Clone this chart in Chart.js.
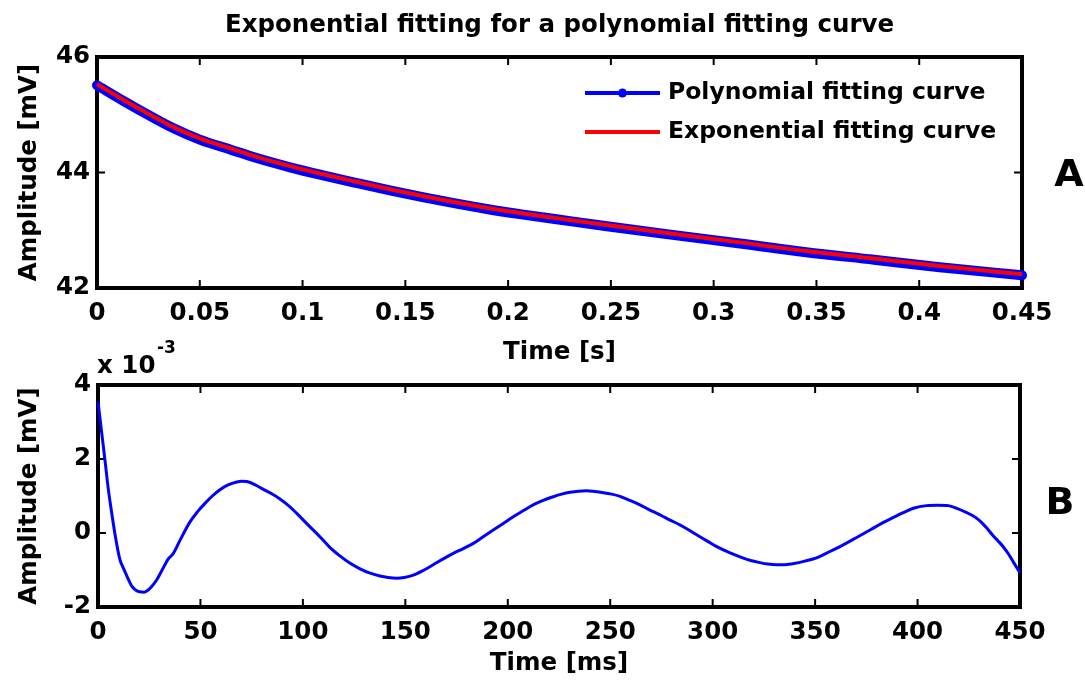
<!DOCTYPE html>
<html>
<head>
<meta charset="utf-8">
<script src="https://cdn.jsdelivr.net/npm/chart.js@4/dist/chart.umd.min.js"></script>
<style>
  html, body { margin: 0; padding: 0; background: #fff; }
  body { width: 1085px; height: 681px; position: relative; overflow: hidden; }
  canvas { position: absolute; left: 0; }
  #chartA { top: 0; }
  #chartB { top: 335px; }
</style>
</head>
<body>
<canvas id="chartA" width="1085" height="372"></canvas>
<canvas id="chartB" width="1085" height="346"></canvas>
<script>
// ---- Panel A: amplitude decay, time in s, amplitude in mV ----
const timeA = [0, 0.0128, 0.0258, 0.037, 0.05, 0.0647, 0.0777, 0.0939, 0.110, 0.126, 0.1425,
  0.159, 0.175, 0.191, 0.2074, 0.2236, 0.248, 0.280, 0.3128, 0.345, 0.378, 0.410, 0.45];
const polyFit = [45.51, 45.24, 44.98, 44.77, 44.57, 44.40, 44.25, 44.09, 43.95, 43.82, 43.69,
  43.57, 43.46, 43.36, 43.27, 43.19, 43.07, 42.92, 42.77, 42.62, 42.49, 42.36, 42.22];
const expFit = [45.53, 45.26, 45.0, 44.79, 44.59, 44.42, 44.27, 44.11, 43.97, 43.84, 43.71,
  43.59, 43.48, 43.38, 43.29, 43.21, 43.09, 42.94, 42.79, 42.64, 42.51, 42.38, 42.24];
const ticksAx = [0, 0.05, 0.1, 0.15, 0.2, 0.25, 0.3, 0.35, 0.4, 0.45];
const ticksAy = [42, 44, 46];

// ---- Panel B: difference of the two fits, time in ms, amplitude in 1e-3 mV ----
const timeB = [0, 1.5, 3.4, 5, 6.7, 8.5, 10.7, 12, 13.2, 14.8, 16.4, 18.5, 20.5, 22.5, 23.8, 26,
  28.6, 31.5, 34.3, 36.8, 40, 44.9, 48.5, 52.2, 55.8, 59.5, 63.5, 67.7, 70, 72.6, 76.5, 80.7,
  84.8, 88.8, 93, 97, 102.5, 108.3, 113, 118.1, 122.5, 127.9, 132.5, 137.6, 141.5, 145.8, 149.5,
  153.9, 158.5, 163.6, 168.5, 173.4, 178.3, 183.2, 188, 192.9, 197.8, 202.7, 207.5, 212.4, 217.3,
  222.2, 226.3, 230.4, 234.5, 238.5, 242.5, 246.6, 250.7, 254.8, 259.6, 264.5, 269.4, 274.3,
  279.2, 284, 289, 293.8, 298, 302, 308.5, 315, 319, 323, 327, 331, 335, 339, 345, 350.7, 357.2,
  363.7, 370.3, 376.8, 382.5, 388.2, 393, 398, 404.4, 409.7, 415, 419.5, 424, 427.2, 430.4,
  433.7, 437, 439.4, 441.8, 444.3, 446.7, 449.7, 450];
const residual = [3.55, 2.85, 1.97, 1.2, 0.54, -0.1, -0.72, -0.9, -1.05, -1.25, -1.43, -1.55,
  -1.59, -1.6, -1.57, -1.46, -1.27, -0.98, -0.7, -0.55, -0.2, 0.3, 0.57, 0.8, 1.0, 1.17, 1.3,
  1.38, 1.4, 1.39, 1.31, 1.18, 1.06, 0.92, 0.74, 0.53, 0.22, -0.1, -0.38, -0.62, -0.8, -0.97,
  -1.08, -1.16, -1.2, -1.22, -1.2, -1.14, -1.02, -0.86, -0.7, -0.55, -0.42, -0.28, -0.1, 0.08,
  0.26, 0.44, 0.6, 0.76, 0.88, 0.98, 1.05, 1.1, 1.13, 1.14, 1.12, 1.09, 1.05, 0.99, 0.88, 0.76,
  0.62, 0.49, 0.35, 0.22, 0.06, -0.1, -0.24, -0.37, -0.54, -0.68, -0.75, -0.8, -0.84, -0.86,
  -0.86, -0.83, -0.76, -0.67, -0.5, -0.32, -0.12, 0.08, 0.26, 0.42, 0.55, 0.67, 0.74, 0.75,
  0.74, 0.66, 0.55, 0.46, 0.33, 0.14, -0.08, -0.22, -0.37, -0.56, -0.78, -1.05, -1.08];
const ticksBx = [0, 50, 100, 150, 200, 250, 300, 350, 400, 450];
const ticksBy = [-2, 0, 2, 4];

const FONT = '"DejaVu Sans", "Liberation Sans", sans-serif';
Chart.defaults.font.family = FONT;
Chart.defaults.font.weight = 'bold';
Chart.defaults.font.size = 24.5;
Chart.defaults.font.lineHeight = 1.2;
Chart.defaults.color = '#000';
Chart.defaults.animation = false;

const pairs = (xs, ys) => xs.map((x, i) => ({ x, y: ys[i] }));

// Boxed axes with inward tick marks on all four sides
const frame = {
  id: 'frame',
  beforeDatasetsDraw(chart, args, opts) {
    const { ctx, chartArea: a, scales: { x, y } } = chart;
    ctx.save();
    ctx.strokeStyle = '#000';
    ctx.lineWidth = 2;
    ctx.beginPath();
    opts.xTicks.forEach(v => {
      const px = x.getPixelForValue(v);
      ctx.moveTo(px, a.bottom); ctx.lineTo(px, a.bottom - opts.len);
      ctx.moveTo(px, a.top); ctx.lineTo(px, a.top + opts.len);
    });
    opts.yTicks.forEach(v => {
      const py = y.getPixelForValue(v);
      ctx.moveTo(a.left, py); ctx.lineTo(a.left + opts.len, py);
      ctx.moveTo(a.right, py); ctx.lineTo(a.right - opts.len, py);
    });
    ctx.stroke();
    ctx.lineWidth = 4;
    ctx.strokeRect(a.left, a.top, a.right - a.left, a.bottom - a.top);
    ctx.restore();
  }
};

// Free text: panel letters and the axis multiplier
const notes = {
  id: 'notes',
  afterDraw(chart, args, opts) {
    const { ctx } = chart;
    ctx.save();
    ctx.fillStyle = '#000';
    (opts.items || []).forEach(it => {
      ctx.font = `bold ${it.size}px ${FONT}`;
      ctx.textAlign = it.align || 'left';
      ctx.textBaseline = it.baseline || 'alphabetic';
      ctx.fillText(it.text, it.x, it.y);
    });
    ctx.restore();
  }
};

// Legend drawn inside the plot box: line sample, optional dot, label
const lineKey = {
  id: 'lineKey',
  afterDatasetsDraw(chart, args, opts) {
    const { ctx, chartArea: a } = chart;
    const x0 = a.left + opts.dx;
    ctx.save();
    ctx.font = `bold ${opts.size}px ${FONT}`;
    ctx.textBaseline = 'middle';
    ctx.textAlign = 'left';
    chart.data.datasets.forEach((ds, i) => {
      const y = a.top + opts.dy + i * opts.gap;
      ctx.strokeStyle = ds.keyColor;
      ctx.lineWidth = 4;
      ctx.beginPath();
      ctx.moveTo(x0, y);
      ctx.lineTo(x0 + opts.len, y);
      ctx.stroke();
      if (ds.keyDot) {
        ctx.fillStyle = ds.keyColor;
        ctx.beginPath();
        ctx.arc(x0 + opts.len / 2, y, 4.5, 0, Math.PI * 2);
        ctx.fill();
      }
      ctx.fillStyle = '#000';
      ctx.fillText(ds.label, x0 + opts.len + 8, y);
    });
    ctx.restore();
  }
};

function fixedTicks(list) {
  return scale => { scale.ticks = list.map(v => ({ value: v })); };
}

new Chart(document.getElementById('chartA'), {
  type: 'line',
  data: {
    datasets: [
      {
        label: 'Polynomial fitting curve',
        data: pairs(timeA, polyFit),
        borderColor: '#0000ff',
        keyColor: '#0000ff',
        keyDot: true,
        borderWidth: 10,
        borderCapStyle: 'round',
        borderJoinStyle: 'round',
        pointRadius: 0,
        cubicInterpolationMode: 'monotone',
        clip: false,
        order: 2
      },
      {
        label: 'Exponential fitting curve',
        data: pairs(timeA, expFit),
        borderColor: '#ff0000',
        keyColor: '#ff0000',
        borderWidth: 4,
        pointRadius: 0,
        cubicInterpolationMode: 'monotone',
        clip: false,
        order: 1
      }
    ]
  },
  options: {
    responsive: false,
    layout: { padding: { left: 0, right: 63, top: 0, bottom: 0 } },
    scales: {
      x: {
        type: 'linear', min: 0, max: 0.45,
        afterBuildTicks: fixedTicks(ticksAx),
        afterFit: s => { s.height = 84; },
        grid: { display: false, drawTicks: false },
        border: { display: false },
        ticks: { padding: 11, maxRotation: 0, autoSkip: false, callback: v => String(v) },
        title: { display: true, text: 'Time [s]', padding: { top: 0, bottom: 5 } }
      },
      y: {
        type: 'linear', min: 42, max: 46,
        afterBuildTicks: fixedTicks(ticksAy),
        afterFit: s => { s.width = 97; },
        grid: { display: false, drawTicks: false },
        border: { display: false },
        ticks: { padding: 7, callback: v => String(v) },
        title: { display: true, text: 'Amplitude [mV]', padding: { top: 15, bottom: 0 } }
      }
    },
    plugins: {
      legend: { display: false },
      tooltip: { enabled: false },
      title: {
        display: true,
        fullSize: false,
        text: 'Exponential fitting for a polynomial fitting curve',
        font: { size: 24.5, weight: 'bold', lineHeight: 1.2 },
        color: '#000',
        padding: { top: 11, bottom: 16.6 }
      },
      frame: { xTicks: ticksAx, yTicks: ticksAy, len: 8 },
      lineKey: { dx: 488, dy: 36, gap: 39, len: 75, size: 23.5 },
      notes: { items: [{ text: 'A', x: 1069, y: 176, size: 38, align: 'center', baseline: 'middle' }] }
    }
  },
  plugins: [frame, lineKey, notes]
});

new Chart(document.getElementById('chartB'), {
  type: 'line',
  data: {
    datasets: [
      {
        label: 'Difference',
        data: pairs(timeB, residual),
        borderColor: '#0000ff',
        borderWidth: 3,
        pointRadius: 0,
        cubicInterpolationMode: 'monotone',
        clip: false
      }
    ]
  },
  options: {
    responsive: false,
    layout: { padding: { left: 0, right: 65, top: 50, bottom: 0 } },
    scales: {
      x: {
        type: 'linear', min: 0, max: 450,
        afterBuildTicks: fixedTicks(ticksBx),
        afterFit: s => { s.height = 74; },
        grid: { display: false, drawTicks: false },
        border: { display: false },
        ticks: { padding: 11, maxRotation: 0, autoSkip: false, callback: v => String(v) },
        title: { display: true, text: 'Time [ms]', padding: { top: 0, bottom: 3 } }
      },
      y: {
        type: 'linear', min: -2, max: 4,
        afterBuildTicks: fixedTicks(ticksBy),
        afterFit: s => { s.width = 98; },
        grid: { display: false, drawTicks: false },
        border: { display: false },
        ticks: { padding: 7, callback: v => String(v) },
        title: { display: true, text: 'Amplitude [mV]', padding: { top: 15, bottom: 0 } }
      }
    },
    plugins: {
      legend: { display: false },
      tooltip: { enabled: false },
      frame: { xTicks: ticksBx, yTicks: ticksBy, len: 8 },
      notes: {
        items: [
          { text: 'x 10', x: 97, y: 38, size: 24.5 },
          { text: '-3', x: 157, y: 18, size: 17 },
          { text: 'B', x: 1060, y: 169, size: 38, align: 'center', baseline: 'middle' }
        ]
      }
    }
  },
  plugins: [frame, notes]
});
</script>
</body>
</html>
